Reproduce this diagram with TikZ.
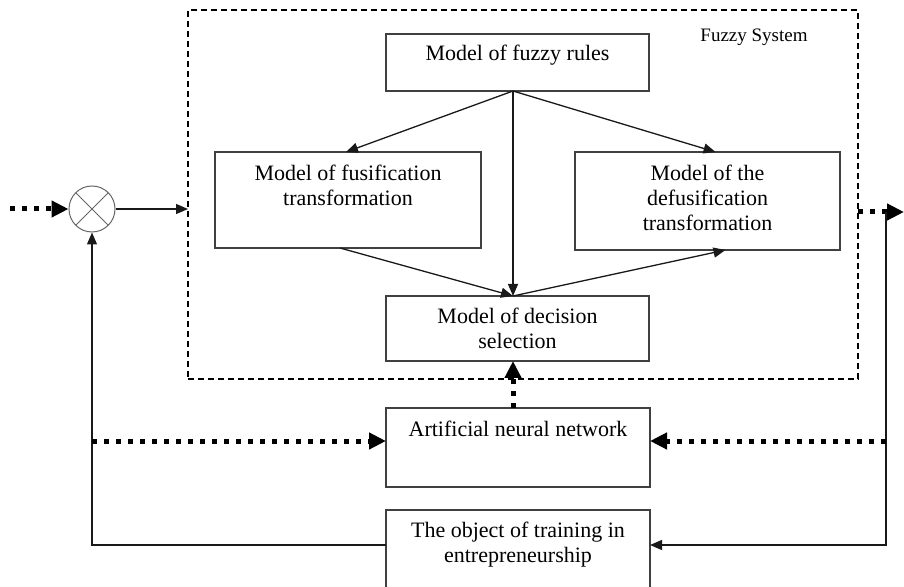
\documentclass[tikz,border=0pt]{standalone}
\usepackage{fontspec}
\setmainfont{Liberation Serif}
\usetikzlibrary{arrows.meta,positioning}

\tikzset{
  block/.style={draw=black!75, line width=0.6pt, inner sep=0pt, outer sep=0pt, anchor=north west},
  txt/.style={inner sep=0pt, align=center, font=\fontsize{11}{12.5}\selectfont},
  link/.style={draw=black!90, line width=0.65pt, -{Triangle[length=6pt,width=5pt]}},
  heavy/.style={line width=2.5pt, dash pattern=on 2.5pt off 3.5pt, -{Triangle[length=8.5pt,width=8pt]}},
  sysframe/.style={draw, line width=0.75pt, dash pattern=on 3pt off 2pt, inner sep=0pt, outer sep=0pt, anchor=north west},
  mixer/.style={circle, draw=black!60, line width=0.5pt, minimum size=23pt, inner sep=0pt,
    path picture={\draw[black!60,line width=0.5pt]
      (path picture bounding box.north west)--(path picture bounding box.south east)
      (path picture bounding box.north east)--(path picture bounding box.south west);}}
}

\begin{document}
\begin{tikzpicture}[x=0.5pt,y=-0.5pt]
\useasboundingbox (0,0) rectangle (904,587);

% fuzzy system
\node[sysframe, minimum width=335pt, minimum height=184.5pt] (fuzzy) at (188,10) {};
\node[txt, font=\fontsize{9.5}{11}\selectfont] (fuzzy-t) at (754,37) {Fuzzy System};

\node[block, minimum width=131.5pt, minimum height=28.5pt] (rules) at (386,34) {};
\node[txt, below=5.5pt of rules.north] (rules-t) {Model of fuzzy rules};

\node[block, minimum width=133pt, minimum height=48pt] (fus) at (215,152) {};
\node[txt, below=6.5pt of fus.north] (fus-t) {Model of fusification\\transformation};

\node[block, minimum width=132.5pt, minimum height=49pt] (defus) at (575,152) {};
\node[txt, below=6.5pt of defus.north] (defus-t) {Model of the\\defusification\\transformation};

\node[block, minimum width=131.5pt, minimum height=32.5pt] (dec) at (386,296) {};
\node[txt, below=6pt of dec.north] (dec-t) {Model of decision\\selection};

% outside blocks
\node[block, minimum width=132pt, minimum height=39.5pt] (ann) at (386,408) {};
\node[txt, below=6.5pt of ann.north] (ann-t) {Artificial neural network};

\node[block, minimum width=132pt, minimum height=45pt] (obj) at (386,510) {};
\node[txt, below=6pt of obj.north] (obj-t) {The object of training in\\entrepreneurship};

\node[mixer] (mix) at (92,209) {};

\coordinate (src) at (10,209);
\coordinate (out) at (904,212);
\coordinate (tap) at (886,212);
\coordinate (back) at (886,545);
\coordinate (left) at (92,545);
\coordinate (hub) at (513,91);
\coordinate (join) at (513,296);

% inside links
\draw[link] (hub) -- ([xshift=-1pt]fus.north);
\draw[link] (hub) -- ([xshift=4pt]defus.north);
\draw[link] (hub) -- (join);
\draw[link] ([xshift=-4pt]fus.south) -- (join);
\draw[link] (join) -- ([xshift=9pt]defus.south);

% loop
\draw[heavy] (src) -- (mix.west);
\draw[link] (mix.east) -- (mix.east -| fuzzy.west);
\draw[heavy] (fuzzy.east |- out) -- (out);
\draw[link] (tap) -- (back) -- (back -| obj.east);
\draw[link] (back -| obj.west) -- (left) -- (mix.south);
\draw[heavy] (left |- 0,441) -- (ann.west |- 0,441);
\draw[heavy] (back |- 0,441) -- (ann.east |- 0,441);
\draw[heavy] (ann.north -| join) -- (dec.south -| join);

\end{tikzpicture}
\end{document}
